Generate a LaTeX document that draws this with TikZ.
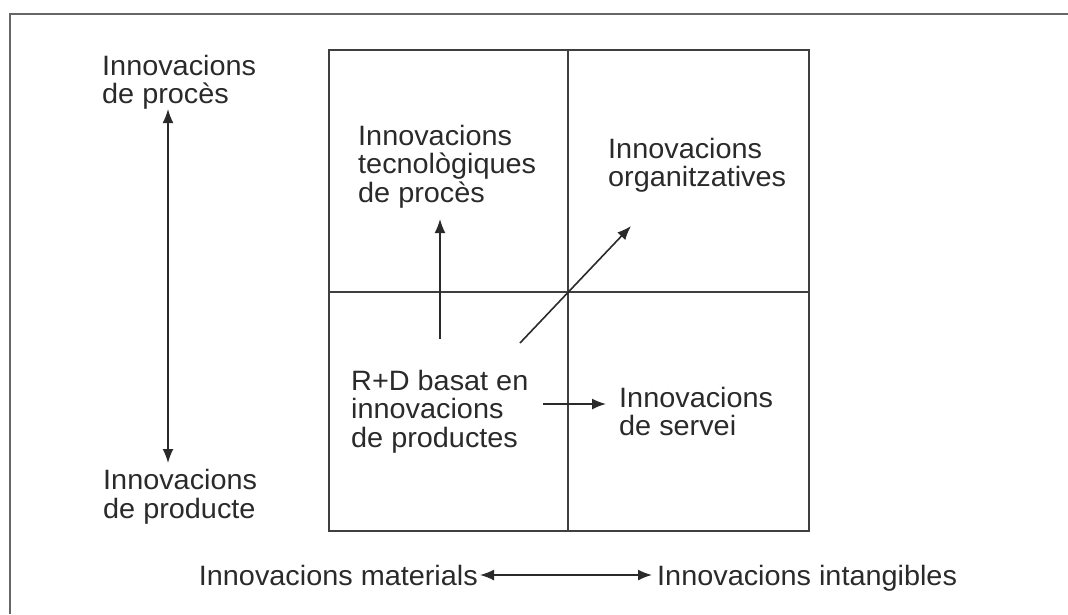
\documentclass[tikz,border=0pt]{standalone}
\usepackage{fontspec}
\setmainfont{Liberation Sans}[FakeStretch=1.03]
\usetikzlibrary{arrows.meta}
\definecolor{ink}{HTML}{2A2A2A}
\definecolor{frame}{HTML}{666666}
\tikzset{
  lbl/.style={anchor=north west, inner sep=0pt, align=left, text=ink,
    font=\fontsize{28}{28.5}\selectfont},
  grid/.style={draw=ink!90, line width=1.5pt},
  tip/.style={Latex[length=14pt,width=11pt]},
  arr/.style={draw=ink, line width=1.6pt, -{Latex[length=14pt,width=11pt]}},
  darr/.style={draw=ink, line width=1.6pt, {Latex[length=14pt,width=11pt]}-{Latex[length=14pt,width=11pt]}},
}
\begin{document}
\begin{tikzpicture}[x=1pt,y=-1pt]
\useasboundingbox (0,0) rectangle (1068,614);
% outer frame (top and left edges visible)
\draw[frame, line width=2pt] (10,614) -- (10,14) -- (1068,14);
% inner square and cross
\draw[grid] (329,50) rectangle (809,531);
\draw[grid] (568,50) -- (568,531);
\draw[grid] (329,292) -- (809,292);
% side labels
\node[lbl] (proc) at (102,55) {Innovacions\\de procès};
\node[lbl] (prod) at (103,469) {Innovacions\\de producte};
\coordinate (vtop) at (168,109);
\coordinate (vbot) at (168,463);
\draw[darr] (vtop) -- (vbot);
% quadrant labels
\node[lbl] (tec) at (358,125) {Innovacions\\tecnològiques\\de procès};
\node[lbl] (org) at (608,138) {Innovacions\\organitzatives};
\node[lbl] (rd) at (351,370) {R+D basat en\\innovacions\\de productes};
\node[lbl] (serv) at (619,387) {Innovacions\\de servei};
% arrows
\coordinate (up0) at (440,339);
\coordinate (up1) at (440,219);
\draw[arr] (up0) -- (up1);
\coordinate (d0) at (520,343);
\coordinate (d1) at (631,226);
\draw[arr] (d0) -- (d1);
\coordinate (h0) at (543,404);
\coordinate (h1) at (606,404);
\draw[arr] (h0) -- (h1);
% bottom axis
\node[lbl, anchor=base east] (mat) at (478,585) {Innovacions materials};
\node[lbl, anchor=base west] (int) at (657,585) {Innovacions intangibles};
\coordinate (b0) at (480,575);
\coordinate (b1) at (652,575);
\draw[darr] (b0) -- (b1);
\end{tikzpicture}
\end{document}
